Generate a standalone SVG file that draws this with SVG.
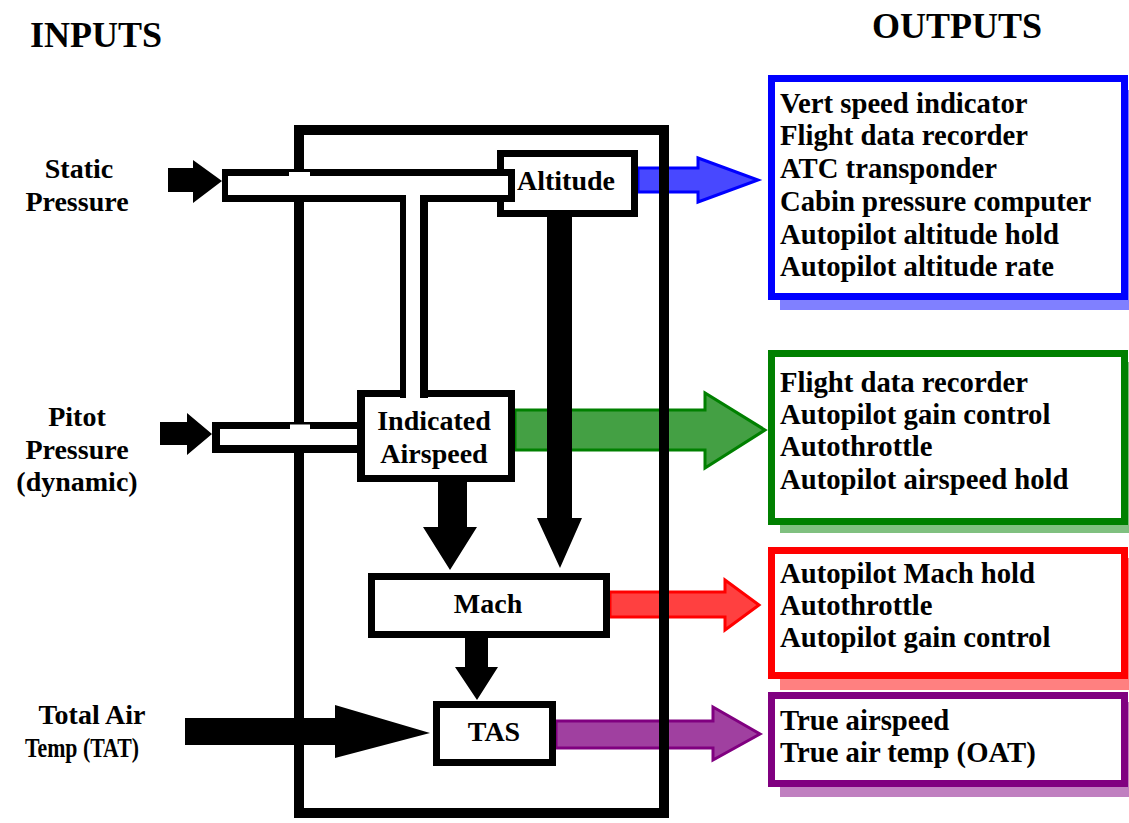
<svg xmlns="http://www.w3.org/2000/svg" width="1129" height="823" viewBox="0 0 1129 823" font-family="'Liberation Serif', 'DejaVu Serif', serif">
<style>
text{font-family:'Liberation Serif','Times New Roman','DejaVu Serif',serif;font-weight:bold;fill:#000}
.hdr{font-size:36px}
.lbl{font-size:28px}
.lst{font-size:28.7px}
.node{fill:#fff;stroke:#000;stroke-width:7}
.blk{fill:#000}
.wht{fill:#fff}
.c{text-anchor:middle}
</style>
<rect x="0" y="0" width="1129" height="823" fill="#fff"/>
<text class="hdr" x="30" y="47">INPUTS</text>
<text class="hdr" x="872" y="38" font-size="37">OUTPUTS</text>
<g id="label-static"><text class="lbl c" x="79" y="178">Static</text><text class="lbl c" x="77" y="211">Pressure</text></g>
<g id="label-pitot"><text class="lbl c" x="77" y="426">Pitot</text><text class="lbl c" x="77" y="459">Pressure</text><text class="lbl c" x="77" y="491">(dynamic)</text></g>
<g id="label-tat"><text class="lbl c" x="92" y="724">Total Air</text><text class="lbl c" x="82" y="757" textLength="114" lengthAdjust="spacingAndGlyphs">Temp (TAT)</text></g>

<g id="connectors">
<polygon points="638,168 698,168 698,158 758,180 698,202 698,192 638,192" fill="#4848ff" stroke="#0000ff" stroke-width="3"/>
<polygon points="515,410 705,410 705,393 765,430 705,468 705,450 515,450" fill="#44a044" stroke="#008000" stroke-width="3"/>
<polygon points="610,592 725,592 725,580 759,605 725,630 725,617 610,617" fill="#ff4040" stroke="#ff0000" stroke-width="3"/>
<polygon points="556,721 713,721 713,707 760,734 713,760 713,748 556,748" fill="#a040a0" stroke="#800080" stroke-width="3"/>
<polygon class="blk" points="168,168 193,168 193,160 222,181 193,203 193,192 168,192"/>
<polygon class="blk" points="160,422 187,422 187,413 212,434 187,455 187,445 160,445"/>
<polygon class="blk" points="547,217 572,217 572,518 582,518 560,568 537,518 547,518"/>
<polygon class="blk" points="438,482 467,482 467,527 477,527 450,570 423,527 438,527"/>
<polygon class="blk" points="465,638 488,638 488,667 498,667 477,700 455,667 465,667"/>
<polygon class="blk" points="185,718 335,718 335,705 430,733 335,758 335,745 185,745"/>
</g>

<g id="air-data-computer">
<rect x="299" y="130" width="365" height="683" fill="none" stroke="#000" stroke-width="10"/>
</g>

<g id="node-altitude">
<rect class="node" x="500.5" y="153.5" width="134" height="60"/>
<text class="lbl" x="517" y="190" font-size="26">Altitude</text>
</g>
<g id="node-ias">
<rect class="node" x="360.5" y="393.5" width="151" height="85"/>
<text class="lbl c" x="434" y="430">Indicated</text>
<text class="lbl c" x="434" y="463">Airspeed</text>
</g>
<g id="node-mach">
<rect class="node" x="371.5" y="576.5" width="235" height="58"/>
<text class="lbl c" x="488" y="613">Mach</text>
</g>
<g id="node-tas">
<rect class="node" x="436.5" y="704.5" width="116" height="58"/>
<text class="lbl c" x="494" y="741" font-size="27">TAS</text>
</g>

<g id="pipes">
<rect class="blk" x="222" y="169" width="293" height="33"/>
<rect class="blk" x="400" y="195" width="28" height="203"/>
<rect class="wht" x="228" y="176" width="280" height="19"/>
<rect class="wht" x="406" y="176" width="14" height="223"/>
<rect class="wht" x="289" y="172" width="21" height="4"/>
<rect class="blk" x="212" y="422" width="148" height="31"/>
<rect class="wht" x="220" y="429" width="140" height="16"/>
<rect class="wht" x="290" y="424.5" width="20" height="4.5"/>
<rect class="blk" x="357" y="390" width="8" height="92"/>
</g>

<g id="out-altitude">
<rect x="780" y="90" width="349" height="220" fill="#8080ff"/>
<rect x="771.5" y="78.5" width="353" height="218" fill="#fff" stroke="#0000ff" stroke-width="7"/>
<text class="lst" x="780" y="113">Vert speed indicator</text>
<text class="lst" x="780" y="145">Flight data recorder</text>
<text class="lst" x="780" y="178">ATC transponder</text>
<text class="lst" x="780" y="211">Cabin pressure computer</text>
<text class="lst" x="780" y="244">Autopilot altitude hold</text>
<text class="lst" x="780" y="276">Autopilot altitude rate</text>
</g>
<g id="out-ias">
<rect x="780" y="362" width="349" height="171" fill="#80c080"/>
<rect x="771.5" y="353.5" width="353" height="168" fill="#fff" stroke="#008000" stroke-width="7"/>
<text class="lst" x="780" y="392">Flight data recorder</text>
<text class="lst" x="780" y="424">Autopilot gain control</text>
<text class="lst" x="780" y="456">Autothrottle</text>
<text class="lst" x="780" y="489">Autopilot airspeed hold</text>
</g>
<g id="out-mach">
<rect x="780" y="558" width="349" height="132" fill="#ff8080"/>
<rect x="771.5" y="550.5" width="353" height="125" fill="#fff" stroke="#ff0000" stroke-width="7"/>
<text class="lst" x="780" y="583">Autopilot Mach hold</text>
<text class="lst" x="780" y="615">Autothrottle</text>
<text class="lst" x="780" y="647">Autopilot gain control</text>
</g>
<g id="out-tas">
<rect x="780" y="702" width="349" height="95" fill="#c080c0"/>
<rect x="771.5" y="695.5" width="353" height="88" fill="#fff" stroke="#800080" stroke-width="7"/>
<text class="lst" x="780" y="730">True airspeed</text>
<text class="lst" x="780" y="762">True air temp (OAT)</text>
</g>
</svg>
